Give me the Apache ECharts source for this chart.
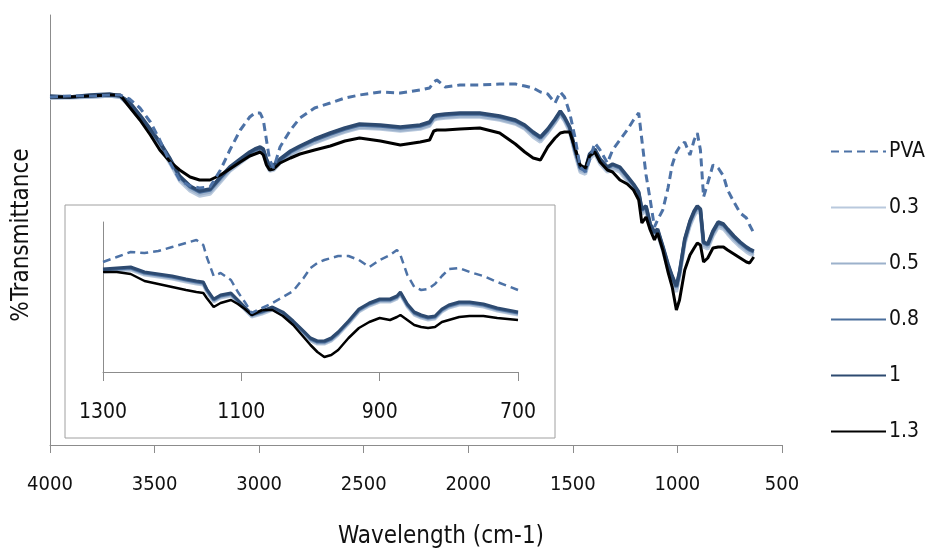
<!DOCTYPE html>
<html>
<head>
<meta charset="utf-8">
<script src="https://cdn.jsdelivr.net/npm/echarts@6/dist/echarts.min.js"></script>
<style>
html,body{margin:0;padding:0;background:#fff;}
#chart{width:933px;height:549px;}
</style>
</head>
<body>
<div id="chart"></div>
<script>
// ---------- main spectrum (full range) ----------
const wavenumbers = [4000,3905,3810,3715,3665,3620,3570,3520,3475,3425,3380,3330,3285,3235,3185,3140,3090,3045,3020,2995,2980,2965,2950,2930,2900,2850,2805,2735,2660,2590,2520,2420,2325,2230,2185,2165,2150,2110,2040,1945,1850,1775,1730,1690,1655,1620,1585,1560,1540,1515,1490,1465,1440,1420,1395,1370,1335,1310,1275,1240,1210,1185,1170,1150,1130,1110,1095,1070,1045,1025,1005,990,965,940,920,905,890,875,855,830,805,780,760,730,700,670,655,635];

const tPVA = [69.6,69.8,69.8,70.0,70.0,69.2,67.4,64.6,61.0,56.4,53.0,51.8,51.4,51.6,55.0,59.0,63.0,65.6,66.4,66.4,65.0,61.0,57.0,55.4,59.6,63.0,65.4,67.4,68.4,69.4,70.0,70.6,70.4,71.0,71.4,72.6,73.0,71.6,72.0,72.0,72.2,72.2,71.8,71.4,70.6,70.2,68.4,70.6,69.6,66.4,61.6,55.6,54.6,57.0,60.4,59.0,56.4,59.0,61.0,63.0,65.0,66.4,61.0,54.0,49.0,43.6,45.0,47.0,51.4,56.0,58.6,59.6,60.6,58.0,61.0,62.4,59.0,49.6,52.4,56.0,55.4,53.8,51.0,48.6,46.4,45.4,44.0,42.4];

const t03 = [69.4,69.4,69.6,69.8,69.6,67.8,65.2,62.4,59.8,56.2,52.8,50.8,49.8,50.2,52.6,54.8,56.4,57.8,58.4,58.8,58.4,56.2,54.8,55.0,56.4,58.0,59.0,60.4,61.6,62.6,63.4,63.2,62.8,63.2,63.8,65.0,65.2,65.4,65.6,65.6,65.0,64.2,63.2,61.6,60.6,62.4,64.4,66.0,64.8,62.6,58.2,54.6,54.2,57.2,58.2,56.2,54.6,55.2,54.6,52.8,51.2,49.6,46.2,46.8,43.2,41.6,42.2,38.8,35.0,32.6,30.6,33.6,40.2,43.8,45.8,46.8,46.2,39.6,39.2,41.8,43.6,43.2,42.2,40.8,39.6,38.6,38.2,37.8];

const t05 = [69.4,69.6,69.6,69.8,69.6,68.0,65.4,62.6,60.0,56.6,53.2,51.2,50.2,50.6,53.0,55.0,56.6,58.0,58.6,59.0,58.6,56.6,55.2,55.4,56.6,58.2,59.2,60.6,61.8,62.8,63.6,63.4,63.0,63.4,64.0,65.2,65.4,65.6,65.8,65.8,65.2,64.4,63.4,62.0,61.0,62.6,64.6,66.2,65.0,63.0,58.6,55.0,54.6,57.6,58.6,56.6,55.0,55.6,55.0,53.2,51.6,50.0,46.6,47.2,43.6,42.0,42.6,39.2,35.6,33.2,31.2,34.0,40.6,44.2,46.2,47.2,46.6,40.0,39.6,42.2,44.0,43.6,42.6,41.2,40.0,39.0,38.6,38.2];

const t08 = [69.6,69.6,69.8,70.0,69.8,68.4,65.8,63.0,60.4,57.0,53.6,51.6,50.6,51.0,53.4,55.4,57.0,58.4,59.0,59.4,59.0,57.0,55.6,55.8,57.0,58.6,59.6,61.0,62.2,63.2,64.0,63.8,63.4,63.8,64.4,65.6,65.8,66.0,66.2,66.2,65.6,64.8,63.8,62.4,61.4,63.0,65.0,66.6,65.4,63.4,59.0,55.4,55.0,58.0,59.0,57.0,55.4,56.0,55.4,53.6,52.0,50.4,47.0,47.6,44.0,42.4,43.0,39.6,36.0,33.6,31.6,34.4,41.0,44.6,46.6,47.6,47.0,40.4,40.0,42.6,44.4,44.0,43.0,41.6,40.4,39.4,39.0,38.6];

const t10 = [69.8,69.6,70.0,70.2,69.8,68.6,66.0,63.2,60.6,57.2,53.8,51.8,50.8,51.2,53.6,55.6,57.2,58.6,59.2,59.6,59.2,57.2,55.8,56.0,57.2,58.8,59.8,61.2,62.4,63.4,64.2,64.0,63.6,64.0,64.6,65.8,66.0,66.2,66.4,66.4,65.8,65.0,64.0,62.6,61.6,63.2,65.2,66.8,65.6,63.6,59.2,55.6,55.2,58.2,59.2,57.2,55.6,56.2,55.6,53.8,52.2,50.6,47.2,47.8,44.2,42.6,43.2,39.8,36.2,33.8,31.8,34.6,41.2,44.8,46.8,47.8,47.2,40.6,40.2,42.8,44.6,44.2,43.2,41.8,40.6,39.6,39.2,38.8];

const t13 = [69.6,69.6,69.8,70.0,70.0,67.6,65.0,62.0,59.0,56.6,55.0,53.6,53.0,53.0,54.0,55.2,56.6,57.8,58.2,58.6,58.0,56.0,55.0,55.2,56.4,57.4,58.2,59.0,59.8,60.8,61.4,60.8,60.0,60.6,61.0,62.8,63.0,63.0,63.2,63.4,62.4,60.2,58.6,57.4,57.0,59.6,61.4,62.4,62.6,62.6,59.4,56.0,55.4,57.8,58.6,56.6,55.0,54.6,53.0,52.2,51.0,49.0,44.4,45.6,43.0,41.0,42.4,39.0,34.6,31.6,27.0,29.0,35.0,38.0,39.4,40.4,40.0,36.6,37.4,39.4,39.6,39.6,39.0,38.2,37.4,36.6,36.4,37.6];

// ---------- inset (1300 - 700 cm-1) ----------
const insetWavenumbers = [1300,1280,1260,1240,1220,1200,1180,1165,1155,1150,1140,1130,1115,1105,1095,1085,1070,1055,1040,1025,1010,1000,990,980,970,960,945,930,915,900,885,875,870,860,850,840,830,820,810,800,785,770,750,730,715,700];

const iPVA = [110,115,120,119,121,125,129,132,127,115,96,99,92,80,70,59,64,69,75,81,94,104,109,112,114,116,116,112,105,112,117,122,117,97,85,82,83,88,96,103,104,100,96,90,86,82];
const i03 = [100,101,102,97,95,93,90,88,87,80,70,74,76,69,62,55,58,62,57,48,38,31,28,28,31,37,48,60,66,70,70,73,77,65,57,54,52,53,60,64,67,67,65,61,59,57];
const i05 = [101,102,103,98,96,94,91,89,88,81,71,75,77,70,63,56,59,63,58,49,39,32,29,29,32,38,49,61,67,71,71,74,78,66,58,55,53,54,61,65,68,68,66,62,60,58];
const i08 = [102,103,104,99,97,95,92,90,89,82,72,76,78,71,64,57,60,64,59,50,40,33,30,30,33,39,50,62,68,72,72,75,79,67,59,56,54,55,62,66,69,69,67,63,61,59];
const i10 = [103,104,105,100,98,96,93,91,90,83,73,77,79,72,65,58,61,65,60,51,41,34,31,31,34,40,51,63,69,73,73,76,80,68,60,57,55,56,63,67,70,70,68,64,62,60];
const i13 = [100,100,98,91,88,85,82,80,79,74,65,69,72,68,63,57,62,62,56,47,35,27,20,15,17,22,34,44,50,54,52,55,57,52,47,45,44,45,50,52,55,56,56,54,53,52];

const seriesNames = ['PVA','0.3','0.5','0.8','1','1.3'];
const mainValues = [tPVA, t03, t05, t08, t10, t13];
const insetValues = [iPVA, i03, i05, i08, i10, i13];
const insetTicks = [1300,1100,900,700];
const mainTicks = [4000,3500,3000,2500,2000,1500,1000,500];
const xTitle = 'Wavelength (cm-1)';
const yTitle = '%Transmittance';

const colors = ['#4d72a6','#b9c9dd','#9cb1cb','#4a6e9c','#2d4a70','#000000'];
const widths = [3,3.5,3.5,3.5,3.5,3];
const insetWidths = [2.5,3,3,3,3,2.5];

const FONT = '"DejaVu Sans Condensed", "DejaVu Sans", sans-serif';

function pairs(xs, ys){ return xs.map((x,i)=>[x, ys[i]]); }
const plain = v => String(v);

const series = [];
seriesNames.forEach((name, k) => {
  series.push({
    name: name, type: 'line', xAxisIndex: 0, yAxisIndex: 0,
    data: pairs(wavenumbers, mainValues[k]),
    symbol: 'none', showSymbol: false,
    lineStyle: {color: colors[k], width: widths[k], type: k===0 ? [8,5] : 'solid'},
    itemStyle: {color: colors[k]},
    z: k===0 ? 8 : 2 + k
  });
});
seriesNames.forEach((name, k) => {
  series.push({
    name: name, type: 'line', xAxisIndex: 1, yAxisIndex: 1,
    data: pairs(insetWavenumbers, insetValues[k]),
    symbol: 'none', showSymbol: false,
    lineStyle: {color: colors[k], width: insetWidths[k], type: k===0 ? [8,5] : 'solid'},
    itemStyle: {color: colors[k]},
    z: k===0 ? 8 : 2 + k
  });
});

const chart = echarts.init(document.getElementById('chart'), null, {renderer: 'canvas'});
chart.setOption({
  animation: false,
  backgroundColor: '#ffffff',
  textStyle: {fontFamily: FONT},
  legend: {
    data: seriesNames,
    orient: 'vertical',
    left: 825, top: 136,
    itemWidth: 55, itemHeight: 14, itemGap: 35,
    itemStyle: {opacity: 0},
    textStyle: {fontSize: 21, color: '#111', fontFamily: FONT, padding: [0,0,0,-2]},
    selectedMode: false
  },
  grid: [
    {left: 50, top: 15, width: 732, height: 430},
    {left: 103, top: 222, width: 415, height: 150}
  ],
  xAxis: [
    {
      type: 'value', gridIndex: 0, min: 500, max: 4000, interval: 500, inverse: true,
      axisLine: {lineStyle: {color: '#8c8c8c', width: 1}},
      axisTick: {show: true, length: 8, lineStyle: {color: '#8c8c8c'}, customValues: mainTicks},
      axisLabel: {fontSize: 20, color: '#111', margin: 30, fontFamily: FONT, customValues: mainTicks, formatter: plain},
      splitLine: {show: false}
    },
    {
      type: 'value', gridIndex: 1, min: 700, max: 1300, interval: 100, inverse: true,
      axisLine: {lineStyle: {color: '#8c8c8c', width: 1}},
      axisTick: {show: true, length: 9, lineStyle: {color: '#8c8c8c'}, customValues: insetTicks},
      axisLabel: {fontSize: 21, color: '#111', margin: 30, fontFamily: FONT, customValues: insetTicks, formatter: plain},
      splitLine: {show: false}
    }
  ],
  yAxis: [
    {
      type: 'value', gridIndex: 0, min: 0, max: 86,
      axisLine: {show: true, lineStyle: {color: '#8c8c8c', width: 1}},
      axisTick: {show: false}, axisLabel: {show: false}, splitLine: {show: false}
    },
    {
      type: 'value', gridIndex: 1, min: 0, max: 150,
      axisLine: {show: true, lineStyle: {color: '#8c8c8c', width: 1}},
      axisTick: {show: false}, axisLabel: {show: false}, splitLine: {show: false}
    }
  ],
  graphic: [
    {type: 'rect', shape: {x: 65, y: 205, width: 490, height: 233},
     style: {fill: 'none', stroke: '#a0a0a0', lineWidth: 1}, silent: true},
    {type: 'text', x: 441, y: 537,
     style: {text: xTitle, fontSize: 24, fontFamily: FONT, fill: '#111', align: 'center', verticalAlign: 'middle'}},
    {type: 'text', x: 22, y: 235, rotation: Math.PI/2,
     style: {text: yTitle, fontSize: 24, fontFamily: FONT, fill: '#111', align: 'center', verticalAlign: 'middle'}}
  ],
  series: series
});
</script>
</body>
</html>
